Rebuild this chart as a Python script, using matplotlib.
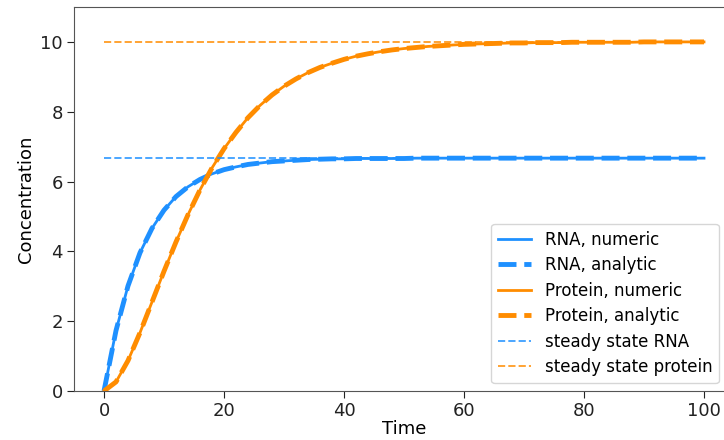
import matplotlib
matplotlib.use("Agg")
import matplotlib.pyplot as plt

# Time grid and concentrations (every 2 time units)
time = list(range(0, 101, 2))

rna = [
    0.00, 1.73, 3.01, 3.96, 4.66, 5.18, 5.57, 5.85, 6.06, 6.22,
    6.34, 6.42, 6.49, 6.53, 6.57, 6.59, 6.61, 6.63, 6.64, 6.65,
    6.65, 6.66, 6.66, 6.66, 6.66, 6.66, 6.67, 6.67, 6.67, 6.67,
    6.67, 6.67, 6.67, 6.67, 6.67, 6.67, 6.67, 6.67, 6.67, 6.67,
    6.67, 6.67, 6.67, 6.67, 6.67, 6.67, 6.67, 6.67, 6.67, 6.67,
    6.67,
]

protein = [
    0.00, 0.26, 0.87, 1.67, 2.55, 3.43, 4.27, 5.05, 5.76, 6.39,
    6.94, 7.41, 7.83, 8.18, 8.48, 8.73, 8.94, 9.12, 9.27, 9.39,
    9.50, 9.59, 9.66, 9.72, 9.77, 9.81, 9.84, 9.87, 9.89, 9.91,
    9.93, 9.94, 9.95, 9.96, 9.97, 9.97, 9.98, 9.98, 9.98, 9.99,
    9.99, 9.99, 9.99, 9.99, 9.99, 10.00, 10.00, 10.00, 10.00, 10.00,
    10.00,
]

rna_steady = 6.67
protein_steady = 10.0

blue = "dodgerblue"
orange = "darkorange"

fig = plt.figure(figsize=(7.24, 4.40), dpi=100)
ax = fig.add_axes([74 / 724, 49 / 440, 660 / 724, 384 / 440])

ax.plot(time, rna, color=blue, lw=2, label="RNA, numeric")
ax.plot(time, rna, color=blue, lw=3.5, ls="--", label="RNA, analytic")
ax.plot(time, protein, color=orange, lw=2, label="Protein, numeric")
ax.plot(time, protein, color=orange, lw=3.5, ls="--", label="Protein, analytic")

ax.hlines(rna_steady, time[0], time[-1], color=blue, lw=1.4,
          linestyles="--", alpha=0.8, label="steady state RNA")
ax.hlines(protein_steady, time[0], time[-1], color=orange, lw=1.4,
          linestyles="--", alpha=0.8, label="steady state protein")

ax.set_xlim(-5, 105)
ax.set_ylim(0, 11)
ax.set_xticks([0, 20, 40, 60, 80, 100])
ax.set_yticks([0, 2, 4, 6, 8, 10])
ax.tick_params(labelsize=13, length=5, pad=3, colors="#222222")
for s in ax.spines.values():
    s.set_color("#555555")

ax.set_xlabel("Time", fontsize=13, labelpad=0)
ax.set_ylabel("Concentration", fontsize=13)

ax.legend(loc="lower right", bbox_to_anchor=(0.977, 0.021),
          borderaxespad=0, fontsize=12, handlelength=2.0,
          labelspacing=0.45)

fig.savefig("out.png", dpi=100)
